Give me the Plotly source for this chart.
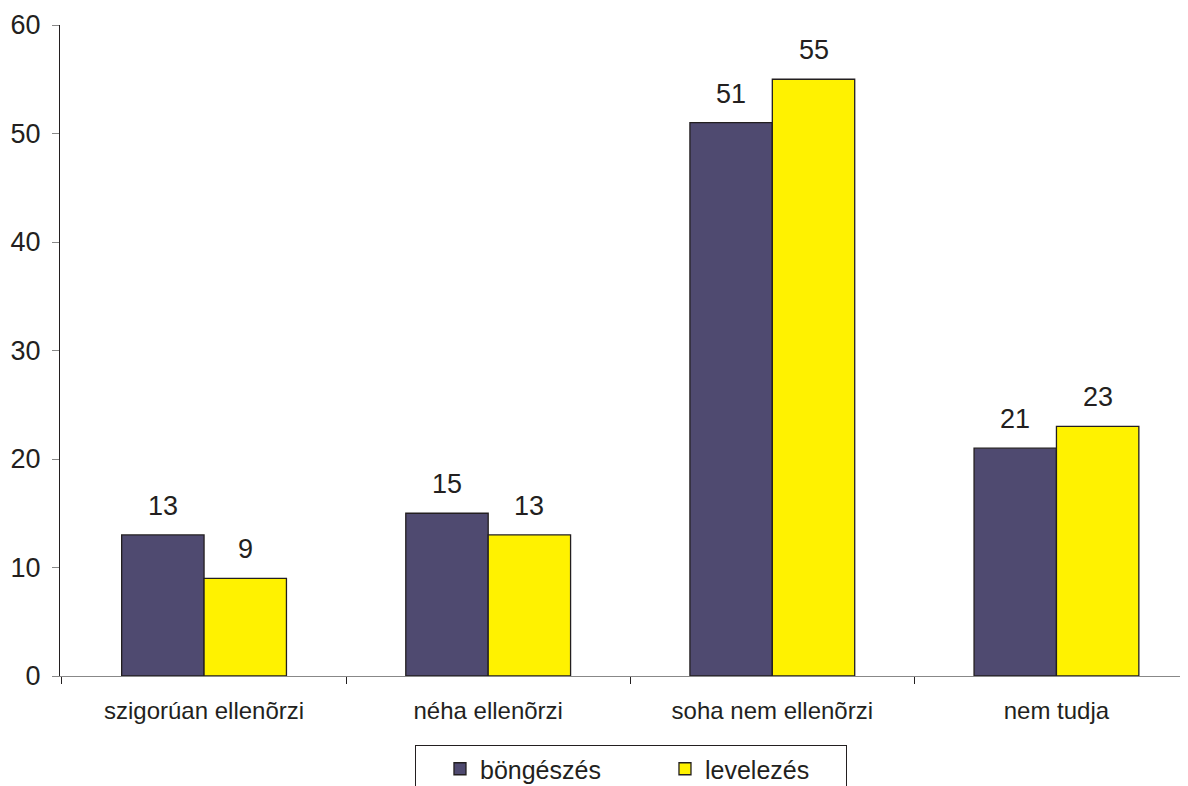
import plotly.graph_objects as go

# --- Data ---
categories = ['szigorúan ellenõrzi', 'néha ellenõrzi', 'soha nem ellenõrzi', 'nem tudja']
bongeszes = [13, 15, 51, 21]
levelezes = [9, 13, 55, 23]

FONT = 'Arial, Liberation Sans, sans-serif'
TEXT_COLOR = '#231f20'

fig = go.Figure()
fig.add_trace(go.Bar(x=categories, y=bongeszes, name='böngészés', legendwidth=156,
                     marker=dict(color='#4f4a70', line=dict(color='#231f20', width=1.3))))
fig.add_trace(go.Bar(x=categories, y=levelezes, name='levelezés', legendwidth=136,
                     marker=dict(color='#fff200', line=dict(color='#231f20', width=1.3))))

# value labels above each bar
bar_off = 0.145
for i, (a, b) in enumerate(zip(bongeszes, levelezes)):
    for dx, v in ((-bar_off, a), (bar_off, b)):
        fig.add_annotation(x=i + dx, y=v, text=str(v), showarrow=False,
                           yanchor='bottom', yshift=12,
                           font=dict(size=27, color=TEXT_COLOR, family=FONT))

# page has an 8px body margin; figure is taller than the window so the
# legend box runs off the bottom edge like in the original
fig.update_layout(
    width=1180, height=830, autosize=False,
    margin=dict(l=52, r=0, t=17, b=162),
    plot_bgcolor='white', paper_bgcolor='white',
    barmode='group', bargap=0.42, bargroupgap=0,
    font=dict(family=FONT, color=TEXT_COLOR),
    showlegend=True,
    legend=dict(orientation='h', x=0.3147, xanchor='left', y=-0.106, yanchor='top',
                bordercolor='#231f20', borderwidth=1, indentation=24,
                font=dict(size=25, color=TEXT_COLOR, family=FONT)),
)
fig.update_xaxes(range=[-0.507, 3.463], showline=True, linecolor='#888888', linewidth=1.3,
                 ticks='outside', tickson='boundaries', ticklen=7, tickcolor='#231f20',
                 ticklabelstandoff=13, automargin=False,
                 tickfont=dict(size=24, color=TEXT_COLOR), showgrid=False)
fig.update_yaxes(range=[0, 60], dtick=10, showline=True, linecolor='#231f20', linewidth=1.3,
                 ticks='outside', ticklen=7, tickcolor='#888888', showgrid=False,
                 ticklabelstandoff=6, automargin=False,
                 zeroline=False, tickfont=dict(size=27, color=TEXT_COLOR))

fig.write_html("out.html")
